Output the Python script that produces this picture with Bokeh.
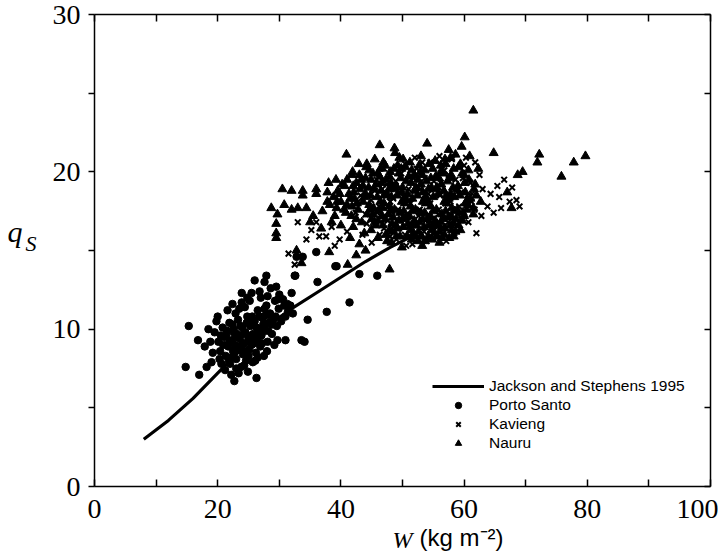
from bokeh.plotting import figure
from bokeh.models import LinearAxis, FixedTicker, Range1d, Legend, LegendItem, Title
from bokeh.embed import file_html
from bokeh.resources import INLINE

# ---- data ----
js_w = [8, 12, 16, 20, 24, 28, 32, 36, 40, 44, 48, 52]
js_q = [3.0, 4.2, 5.6, 7.2, 8.8, 10.2, 11.3, 12.3, 13.3, 14.3, 15.2, 16.0]

porto_santo = [
    (15.3, 10.2), (14.8, 7.6), (16.8, 9.3), (17.9, 8.9), (17.0, 7.1), (18.2, 7.6), (19.8, 10.5),
    (22.2, 7.1), (23.9, 11.7), (26.0, 13.1), (27.9, 13.4), (27.6, 13.0), (29.5, 12.7), (25.5, 12.3),
    (26.8, 12.4), (28.1, 12.1), (32.0, 12.3), (31.3, 11.6), (32.6, 13.4), (34.6, 10.6), (29.7, 9.3),
    (31.0, 9.3), (33.6, 9.3), (34.1, 9.2), (36.2, 13.0), (37.7, 11.1), (39.1, 14.0), (26.5, 8.2),
    (22.4, 11.6), (41.4, 11.7), (32.8, 14.6), (33.8, 14.6), (36.0, 14.9), (39.3, 14.0), (43.0, 13.5),
    (45.9, 13.4), (32.5, 13.4),
    (19.5, 9.8), (20.1, 9.2), (20.4, 8.6), (20.8, 10.1), (21.0, 9.5), (21.3, 8.3), (21.5, 9.9),
    (21.7, 8.9), (21.9, 10.4), (22.0, 7.8), (22.3, 9.3), (22.5, 8.6), (22.6, 10.0), (22.8, 9.0),
    (23.0, 8.1), (23.1, 9.7), (23.3, 10.6), (23.5, 8.7), (23.6, 9.4), (23.8, 7.6), (24.0, 10.1),
    (24.1, 8.4), (24.3, 9.1), (24.5, 9.8), (24.6, 8.0), (24.8, 10.8), (25.0, 9.4), (25.1, 8.7),
    (25.3, 10.2), (25.5, 9.0), (25.7, 7.9), (25.8, 9.7), (26.0, 10.5), (26.2, 8.5), (26.4, 9.3),
    (26.5, 11.2), (26.7, 10.0), (26.9, 8.9), (27.1, 9.6), (27.3, 10.7), (27.5, 8.3), (27.7, 9.9),
    (27.9, 11.5), (28.1, 9.2), (28.3, 10.4), (28.5, 11.0), (28.8, 9.7), (29.0, 10.6), (29.3, 11.8),
    (29.6, 10.2), (29.9, 11.3), (30.3, 10.5), (30.6, 11.9), (31.0, 10.8), (31.4, 11.1), (32.2, 11.0),
    (20.6, 7.8), (21.2, 7.4), (19.2, 8.5), (18.8, 9.2), (19.0, 7.9), (23.9, 12.3), (24.4, 11.4),
    (25.2, 11.8), (22.9, 11.0), (21.6, 11.2), (27.0, 12.0), (28.6, 12.6), (26.3, 6.9), (24.9, 7.3),
    (23.4, 7.2), (22.7, 6.7), (30.0, 12.2), (28.0, 8.6), (29.2, 9.0), (20.0, 10.8), (18.5, 10.0),
    (20.9, 9.0), (21.4, 9.6), (21.9, 9.2), (22.2, 8.2), (22.4, 10.3), (22.9, 9.5), (23.2, 8.9),
    (23.7, 10.2), (23.9, 9.0), (24.2, 9.7), (24.5, 8.6), (24.7, 10.4), (25.0, 8.3), (25.4, 9.6),
    (25.6, 10.8), (25.9, 9.1), (26.1, 8.0), (26.3, 10.1), (26.6, 9.6), (26.8, 10.8), (27.2, 9.1),
    (27.4, 10.3), (27.8, 10.9), (28.2, 9.9), (28.4, 10.9), (28.9, 10.3), (29.4, 10.8), (23.0, 7.5),
    (24.3, 7.7), (21.8, 8.0), (20.3, 8.1), (22.6, 9.8), (25.2, 10.6), (30.8, 11.5), (29.8, 11.9),
    (31.8, 11.5), (20.5, 9.6), (27.6, 11.3), (23.5, 11.3), (24.8, 12.0),
]

kavieng = [
    (33.0, 16.8), (35.2, 16.3), (36.5, 15.9), (37.6, 15.9), (39.0, 15.3), (39.8, 15.7), (34.4, 15.7),
    (32.5, 14.1), (49.0, 15.7), (50.6, 15.3), (51.6, 15.4), (52.0, 20.9), (63.8, 17.8), (65.7, 18.4),
    (67.4, 18.1), (65.4, 19.1), (61.7, 17.6), (58.4, 16.1), (64.3, 18.6), (68.5, 18.2), (69.0, 17.8),
    (62.0, 16.1), (31.5, 14.8), (36.0, 16.8), (38.5, 16.5), (41.0, 16.2), (43.5, 16.0), (45.0, 15.5),
    (47.0, 16.4), (53.5, 16.2), (55.0, 15.8), (56.5, 16.5), (59.5, 17.0), (60.5, 18.5), (61.0, 19.3),
    (62.5, 19.8), (63.0, 18.9), (64.8, 17.4), (66.0, 17.7), (60.0, 20.4), (58.0, 20.8), (56.0, 21.0),
    (54.5, 20.6), (57.5, 19.8), (58.8, 18.7), (59.8, 19.6), (61.8, 20.6), (62.8, 17.2), (66.5, 19.5),
    (67.8, 19.0), (55.8, 17.3), (54.2, 18.6), (52.8, 17.6), (51.0, 18.9), (50.2, 17.2), (48.5, 18.3),
    (47.5, 19.2), (46.2, 17.8), (45.5, 18.8), (44.0, 17.3), (42.8, 18.1), (57.0, 18.0), (56.2, 19.3),
    (53.6, 19.6), (52.3, 20.2), (49.8, 19.9), (59.2, 17.8), (58.2, 16.9), (61.2, 18.1), (54.8, 17.0),
    (45.8, 19.5), (47.0, 20.2), (48.9, 19.4), (50.4, 20.5), (51.8, 19.6), (53.2, 20.6), (55.1, 19.4),
    (56.8, 20.1), (58.6, 19.5), (60.3, 20.9), (43.2, 18.5), (44.9, 18.2), (46.7, 18.9), (48.0, 18.1),
    (49.7, 18.6), (51.3, 18.0), (52.9, 18.9), (54.5, 18.0), (56.1, 18.5), (57.8, 18.1), (59.5, 18.7),
    (61.3, 18.6), (42.4, 17.4), (44.2, 16.7), (45.9, 17.4), (47.6, 16.9), (49.3, 17.6), (51.0, 16.5),
    (52.6, 17.2), (54.3, 16.9), (55.9, 17.6), (57.4, 16.8), (59.0, 17.3), (60.7, 16.8), (48.0, 15.9),
    (50.4, 16.0), (53.9, 15.6), (55.7, 16.5), (57.1, 15.6), (46.3, 16.0),
]

nauru = [
    (30.5, 18.9), (32.0, 18.8), (33.8, 18.8), (33.8, 18.5), (36.0, 18.9), (36.0, 18.6), (37.8, 18.7),
    (28.7, 17.7), (30.8, 17.9), (32.0, 17.6), (33.0, 17.7), (34.4, 17.7), (29.7, 17.3), (29.5, 16.1),
    (29.5, 15.8), (29.5, 16.7), (40.9, 21.1), (46.3, 21.7), (48.7, 21.5), (54.0, 21.8), (44.2, 20.5),
    (41.9, 20.0), (37.8, 18.1), (39.4, 18.1), (32.8, 15.0), (33.6, 14.2), (38.1, 14.9), (41.1, 14.1),
    (42.5, 14.7), (47.9, 13.8), (53.1, 15.9), (53.6, 15.6), (40.6, 19.1),
    (61.5, 23.9), (57.5, 21.4), (64.8, 21.2), (72.2, 21.1), (71.9, 20.6), (77.8, 20.6), (79.7, 21.0),
    (68.7, 19.8), (69.5, 20.0), (75.8, 19.7), (67.0, 18.7), (67.7, 17.7), (62.3, 20.2), (60.9, 21.0),
    (60.1, 22.2),
    (45.5, 20.8), (47.2, 20.4), (49.5, 20.9), (51.2, 20.6), (53.0, 21.0), (55.3, 20.7), (57.0, 20.5),
    (58.6, 21.1), (43.0, 19.8), (44.6, 20.1), (46.3, 19.7), (48.0, 20.0), (49.7, 19.6), (51.5, 20.1),
    (53.2, 19.8), (54.9, 20.2), (56.6, 19.9), (58.3, 20.2), (60.0, 19.8), (41.0, 19.5), (42.5, 19.3),
    (44.0, 19.6), (45.7, 19.2), (47.3, 19.5), (49.0, 19.1), (50.6, 19.4), (52.2, 19.0), (53.9, 19.4),
    (55.6, 19.0), (57.3, 19.4), (59.0, 19.1), (60.8, 19.5), (39.5, 18.8), (41.3, 18.6), (43.1, 18.9),
    (44.8, 18.5), (46.5, 18.8), (48.2, 18.4), (49.9, 18.7), (51.6, 18.3), (53.3, 18.7), (55.0, 18.4),
    (56.7, 18.8), (58.4, 18.4), (60.2, 18.7), (62.0, 18.5), (38.2, 17.9), (40.0, 18.1), (41.8, 17.8),
    (43.6, 18.1), (45.3, 17.7), (47.0, 18.0), (48.7, 17.6), (50.4, 18.0), (52.1, 17.6), (53.8, 18.0),
    (55.5, 17.6), (57.2, 18.0), (58.9, 17.6), (60.6, 17.9), (39.0, 17.2), (40.8, 17.4), (42.5, 17.0),
    (44.3, 17.3), (46.0, 16.9), (47.7, 17.3), (49.4, 16.9), (51.1, 17.2), (52.8, 16.8), (54.5, 17.2),
    (56.2, 16.8), (57.9, 17.2), (59.7, 16.9), (42.0, 16.5), (44.9, 16.3), (46.8, 16.6), (48.4, 16.2),
    (50.1, 16.5), (51.8, 16.1), (53.5, 16.5), (55.2, 16.1), (56.9, 16.4), (58.6, 16.2), (47.5, 15.6),
    (50.8, 15.9), (52.5, 15.6), (54.2, 15.9), (56.0, 15.5), (57.6, 15.8),
    (35.5, 17.2), (37.0, 17.5), (38.5, 16.8), (36.8, 16.4), (35.0, 16.8), (40.0, 16.6), (41.5, 15.8),
    (43.0, 15.4), (44.0, 15.0), (39.2, 19.5), (38.0, 19.3),
    (44.5, 19.0), (46.0, 19.9), (47.8, 18.9), (49.2, 20.4), (50.8, 18.6), (52.5, 19.5), (54.2, 18.9),
    (55.9, 19.6), (57.8, 18.6), (59.4, 20.5), (45.2, 17.3), (46.8, 17.7), (48.5, 17.1), (50.2, 17.5),
    (51.9, 16.9), (53.6, 17.4), (55.3, 16.9), (57.0, 17.5), (58.7, 17.0), (60.4, 17.6), (49.0, 15.9),
    (52.0, 15.9), (54.8, 15.7), (56.8, 16.0), (61.5, 17.3), (61.8, 19.2), (43.8, 18.4), (42.2, 18.3),
    (42.9, 20.5), (48.8, 21.2), (50.5, 20.3), (56.2, 20.4), (57.8, 20.9), (59.6, 21.6),
    (44.1, 20.3), (46.9, 20.6), (48.6, 20.2), (50.1, 20.8), (52.7, 20.4), (54.3, 20.5), (56.9, 20.8),
    (59.1, 20.3), (41.8, 19.8), (45.2, 19.9), (47.9, 19.7), (49.4, 19.9), (51.9, 19.8), (53.6, 20.1),
    (55.4, 19.7), (57.9, 19.8), (60.7, 20.1), (40.2, 19.2), (43.6, 19.1), (46.6, 19.3), (48.3, 19.1),
    (50.0, 19.0), (51.4, 19.3), (53.0, 19.2), (54.7, 19.0), (56.3, 19.2), (58.2, 19.0), (60.1, 19.3),
    (61.6, 18.9), (38.8, 18.4), (42.1, 18.7), (44.0, 18.6), (45.9, 18.4), (47.5, 18.6), (49.1, 18.5),
    (50.7, 18.2), (52.4, 18.5), (54.1, 18.2), (55.8, 18.6), (57.5, 18.3), (59.3, 18.5), (61.0, 18.3),
    (62.7, 18.1), (39.3, 17.7), (41.0, 17.9), (42.8, 17.6), (44.6, 17.9), (46.1, 17.5), (47.9, 17.8),
    (49.6, 17.4), (51.3, 17.8), (53.0, 17.4), (54.6, 17.8), (56.4, 17.3), (58.0, 17.7), (59.8, 17.4),
    (61.5, 17.7), (41.7, 17.2), (43.4, 16.8), (45.0, 17.0), (46.7, 17.2), (48.3, 16.7), (50.0, 17.0),
    (51.6, 16.6), (53.3, 17.0), (55.0, 16.6), (56.6, 17.0), (58.3, 16.7), (60.0, 17.2), (43.8, 16.1),
    (45.6, 16.6), (47.3, 16.0), (49.2, 16.4), (50.9, 16.7), (52.6, 16.2), (54.3, 16.6), (56.0, 16.2),
    (57.7, 16.6), (59.4, 16.3), (46.0, 15.8), (48.2, 15.5), (49.9, 15.2), (51.5, 15.7), (53.2, 15.3),
    (55.6, 15.9), (58.3, 15.9),
    (44.9, 19.5), (46.4, 20.2), (48.1, 19.3), (49.8, 20.2), (51.0, 19.7), (52.9, 20.0), (54.6, 19.6),
    (56.2, 20.0), (58.0, 19.6), (59.7, 19.9), (45.4, 18.9), (47.0, 18.5), (48.8, 18.9), (50.3, 18.3),
    (52.0, 18.8), (53.7, 18.4), (55.4, 18.9), (57.1, 18.5), (58.8, 18.9), (60.5, 18.2), (44.7, 17.6),
    (46.4, 18.1), (48.1, 17.5), (49.9, 18.1), (51.6, 17.5), (53.3, 18.1), (55.0, 17.5), (56.8, 18.1),
    (58.5, 17.5), (60.2, 18.0), (45.5, 16.8), (47.2, 17.0), (48.9, 16.6), (50.6, 17.1), (52.3, 16.6),
    (54.0, 17.0), (55.7, 16.6), (57.4, 17.1), (59.1, 16.6), (47.9, 16.3), (49.6, 15.9), (51.3, 16.3),
    (53.0, 15.9), (54.7, 16.3), (56.4, 15.8), (58.0, 16.3), (42.6, 18.0), (41.5, 18.3), (40.5, 17.6),
    (42.0, 19.1), (43.3, 19.5), (39.8, 18.6),
]

x_ticks = [0, 10, 20, 30, 40, 50, 60, 70, 80, 90, 100]
x_labels = {0: "0", 10: "", 20: "20", 30: "", 40: "40", 50: "", 60: "60", 70: "", 80: "80", 90: "", 100: "100"}
y_ticks = [0, 5, 10, 15, 20, 25, 30]
y_labels = {0: "0", 5: "", 10: "10", 15: "", 20: "20", 25: "", 30: "30"}

ps_w = [a for a, b in porto_santo]
ps_q = [b for a, b in porto_santo]
kv_w = [a for a, b in kavieng]
kv_q = [b for a, b in kavieng]
na_w = [a for a, b in nauru]
na_q = [b for a, b in nauru]

SERIF = "Liberation Serif"
SANS = "Liberation Sans"

p = figure(width=718, height=555,
           x_range=Range1d(0, 100), y_range=Range1d(0, 30),
           output_backend="svg", toolbar_location=None,
           min_border_left=94, min_border_right=8, min_border_top=14, min_border_bottom=69)
p.grid.visible = False
p.outline_line_color = None
p.background_fill_color = "white"
p.border_fill_color = "white"


def style_axis(ax, ticks, labels, t_in, t_out, show_labels):
    ax.ticker = FixedTicker(ticks=ticks)
    ax.major_label_overrides = labels
    ax.axis_line_color = "black"
    ax.axis_line_width = 1.5
    ax.major_tick_line_color = "black"
    ax.major_tick_line_width = 1.5
    ax.major_tick_in = t_in
    ax.major_tick_out = t_out
    ax.minor_tick_line_color = None
    ax.major_label_text_font = SERIF
    ax.major_label_text_color = "black"
    if show_labels:
        ax.major_label_text_font_size = "28px"
    else:
        ax.major_label_text_font_size = "0px"
        ax.major_label_standoff = 0


def title_axis(text, font, size, style, standoff, line_height):
    ax = LinearAxis(ticker=FixedTicker(ticks=[]), axis_label=text)
    ax.axis_line_color = None
    ax.major_tick_line_color = None
    ax.minor_tick_line_color = None
    ax.major_tick_in = 0
    ax.major_tick_out = 0
    ax.minor_tick_in = 0
    ax.minor_tick_out = 0
    ax.major_label_standoff = 0
    ax.major_label_text_font_size = "0px"
    ax.axis_label_standoff = standoff
    ax.axis_label_text_font = font
    ax.axis_label_text_font_size = size
    ax.axis_label_text_font_style = style
    ax.axis_label_text_color = "black"
    ax.axis_label_text_line_height = line_height
    ax.axis_label_orientation = "horizontal"
    return ax


xb = p.xaxis[0]
style_axis(xb, x_ticks, x_labels, 7, 0, True)
xb.major_label_standoff = 13
# x-axis title part 1: italic serif W (axis label)
xb.axis_label = "W"
xb.axis_label_text_font = SERIF
xb.axis_label_text_font_size = "24px"
xb.axis_label_text_font_style = "italic"
xb.axis_label_text_color = "black"
xb.axis_label_standoff = 6

yl = p.yaxis[0]
style_axis(yl, y_ticks, y_labels, 0, 6, True)
yl.major_label_standoff = 8

xt = LinearAxis()
style_axis(xt, x_ticks, {k: "" for k in x_ticks}, 7, 0, False)
p.add_layout(xt, "above")
yr = LinearAxis()
style_axis(yr, y_ticks, {k: "" for k in y_ticks}, 6, 0, False)
p.add_layout(yr, "right")

# x-axis title part 2: sans "(kg m-2)" on the same line as W
p.add_layout(Title(text="(kg m⁻²)", align="left", offset=325, vertical_align="top", standoff=-64,
                   text_font=SANS, text_font_size="24px", text_font_style="normal",
                   text_color="black"), "below")
# y-axis title: italic q with subscript S
p.add_layout(title_axis("S\n", SERIF, "22px", "italic", 13, 0.55), "left")
p.add_layout(title_axis("q\n", SERIF, "30px", "italic", 0, 1.13), "left")

r_na = p.scatter(na_w, na_q, marker="triangle", size=9, color="black")
r_kv = p.scatter(kv_w, kv_q, marker="x", size=8, line_width=2, color="black")
r_ps = p.scatter(ps_w, ps_q, marker="circle", size=7.5, color="black")
r_js = p.line(js_w, js_q, line_width=3.2, color="black")

legend = Legend(items=[
    LegendItem(label="Jackson and Stephens 1995", renderers=[r_js]),
    LegendItem(label="Porto Santo", renderers=[r_ps]),
    LegendItem(label="Kavieng", renderers=[r_kv]),
    LegendItem(label="Nauru", renderers=[r_na]),
], location=(338, 34))
legend.label_text_font = SANS
legend.label_text_font_size = "15.5px"
legend.label_text_color = "black"
legend.glyph_width = 52
legend.glyph_height = 16
legend.label_height = 16
legend.spacing = 1
legend.label_standoff = 5
legend.padding = 0
legend.margin = 0
legend.border_line_color = None
legend.background_fill_alpha = 0
p.add_layout(legend)

open("out.html", "w").write(file_html(p, INLINE))
